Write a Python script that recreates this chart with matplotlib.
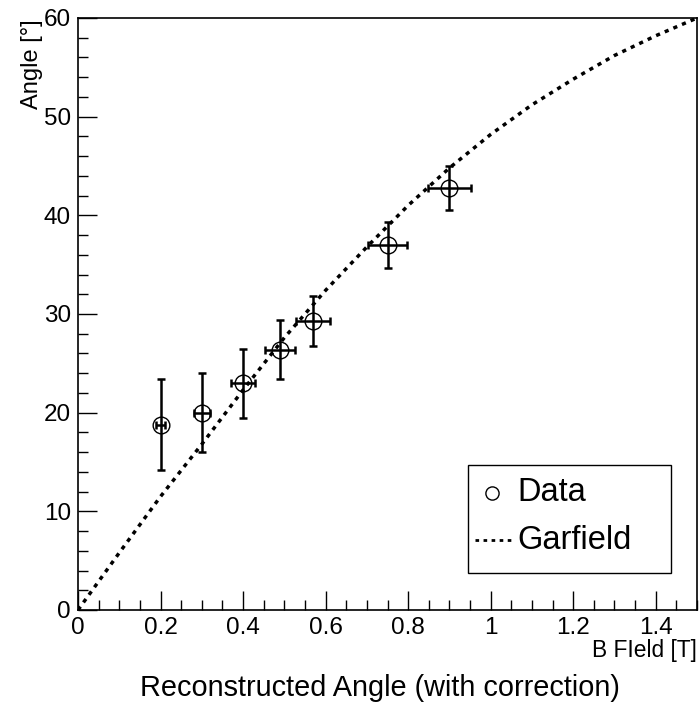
import matplotlib
matplotlib.use("Agg")
import matplotlib.pyplot as plt
from matplotlib.ticker import MultipleLocator, FormatStrFormatter
from matplotlib.patches import Rectangle

plt.rcParams['font.family'] = ['Liberation Sans', 'DejaVu Sans']

# measured points (B field [T], angle [deg]) with errors
b_field = [0.20, 0.30, 0.40, 0.49, 0.57, 0.75, 0.90]
b_err = [0.010, 0.020, 0.030, 0.037, 0.041, 0.047, 0.053]
angle = [18.8, 20.0, 23.0, 26.4, 29.3, 37.0, 42.8]
angle_err = [4.6, 4.0, 3.5, 3.0, 2.5, 2.35, 2.25]

# Garfield simulation curve
garf_b = [0.0, 0.1, 0.2, 0.3, 0.4, 0.5, 0.6, 0.7, 0.8, 0.9,
          1.0, 1.1, 1.2, 1.3, 1.4, 1.5]
garf_angle = [0.0, 5.8, 11.5, 16.8, 22.3, 27.6, 32.4, 36.8, 41.0, 44.8,
              48.2, 51.2, 53.8, 56.2, 58.2, 60.0]

fig = plt.figure(figsize=(6.99, 7.04), dpi=100)
ax = fig.add_axes([78 / 699, 94 / 704, 619 / 699, 592 / 704])

ax.plot(garf_b, garf_angle, color='black', lw=2.5,
        linestyle=(0, (1.2, 1.5)), dash_capstyle='butt')

ax.errorbar(b_field, angle, xerr=b_err, yerr=angle_err, fmt='none',
            ecolor='black', elinewidth=1.8, capsize=3, capthick=1.8)
ax.plot(b_field, angle, 'o', mfc='none', mec='black', mew=1.0, ms=12)

ax.set_xlim(0, 1.5)
ax.set_ylim(0, 60)
ax.xaxis.set_major_locator(MultipleLocator(0.2))
ax.xaxis.set_minor_locator(MultipleLocator(0.05))
ax.yaxis.set_major_locator(MultipleLocator(10))
ax.yaxis.set_minor_locator(MultipleLocator(2))
ax.xaxis.set_major_formatter(FormatStrFormatter('%g'))
ax.tick_params(which='both', direction='in', top=False, right=False,
               labelsize=17.5, width=1)
ax.tick_params(which='major', length=13.5, pad=5)
ax.tick_params(which='minor', length=7)
for sp in ax.spines.values():
    sp.set_linewidth(1.2)

# legend box drawn by hand in axes coordinates
ax.add_patch(Rectangle((0.630, 0.0625), 0.328, 0.1825, transform=ax.transAxes,
                       fill=False, edgecolor='black', lw=1.0, clip_on=False))
ax.plot([0.669], [0.198], 'o', mfc='none', mec='black', mew=1.0, ms=9.5,
        transform=ax.transAxes)
ax.text(0.710, 0.198, 'Data', transform=ax.transAxes, fontsize=23.5,
        va='center', ha='left')
ax.plot([0.641, 0.700], [0.118, 0.118], color='black', lw=2.0,
        linestyle=(0, (1.3, 1.6)), dash_capstyle='butt', transform=ax.transAxes)
ax.text(0.710, 0.118, 'Garfield', transform=ax.transAxes, fontsize=23.5,
        va='center', ha='left')

fig.text(32 / 699, 1 - 19 / 704, 'Angle [°]', rotation=90, fontsize=17,
         ha='center', va='top')
fig.text(697 / 699, 1 - 650 / 704, 'B FIeld [T]', fontsize=16.4,
         ha='right', va='center')
fig.text(380 / 699, 1 - 688 / 704, 'Reconstructed Angle (with correction)',
         fontsize=20.8, ha='center', va='center')

fig.savefig('out.png', dpi=100)
